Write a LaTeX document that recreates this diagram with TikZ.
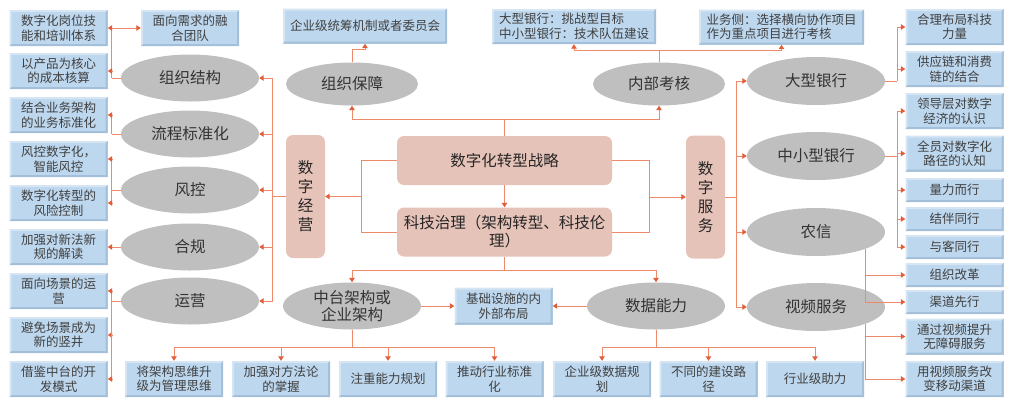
\documentclass[tikz,border=0pt]{standalone}
\usepackage{fontspec}
\setmainfont{Noto Sans CJK SC}
\usetikzlibrary{positioning}
\usetikzlibrary{shapes.geometric}
\usetikzlibrary{arrows.meta}
\definecolor{boxColor}{RGB}{189,215,238}
\definecolor{boxLightColor}{RGB}{214,229,244}
\definecolor{boxDarkColor}{RGB}{164,191,218}
\definecolor{ovalColor}{RGB}{191,191,191}
\definecolor{coreColor}{RGB}{230,195,184}
\definecolor{lineColor}{RGB}{238,138,108}
\definecolor{tipColor}{RGB}{226,94,58}
\definecolor{textColor}{RGB}{64,64,64}

\begin{document}
\begin{tikzpicture}[x=1pt,y=-1pt]

            \tikzstyle{infoBox} = [rectangle, fill=boxColor, minimum width=98pt, minimum height=36pt, inner sep=0pt, align=center, text=textColor, font=\fontsize{12.5}{14.5}\selectfont,
              path picture={
                \fill[boxLightColor] (path picture bounding box.south west) -- (path picture bounding box.north west) -- (path picture bounding box.north east)
                  -- ([xshift=-2pt,yshift=-2pt]path picture bounding box.north east) -- ([xshift=2pt,yshift=-2pt]path picture bounding box.north west)
                  -- ([xshift=2pt,yshift=2pt]path picture bounding box.south west) -- cycle;
                \fill[boxDarkColor] (path picture bounding box.south west) -- (path picture bounding box.south east) -- (path picture bounding box.north east)
                  -- ([xshift=-2pt,yshift=-2pt]path picture bounding box.north east) -- ([xshift=-2pt,yshift=2pt]path picture bounding box.south east)
                  -- ([xshift=2pt,yshift=2pt]path picture bounding box.south west) -- cycle;
              }];
            \tikzstyle{shortBox} = [infoBox, minimum height=24pt];
            \tikzstyle{oval} = [ellipse, fill=ovalColor, minimum width=138pt, minimum height=47pt, inner sep=0pt, align=center, text=black!80, font=\fontsize{15.5}{17.5}\selectfont];
            \tikzstyle{coreBox} = [rectangle, rounded corners=7pt, fill=coreColor, minimum width=215pt, minimum height=49pt, inner sep=0pt, align=center, text=black!85, font=\fontsize{15.5}{18}\selectfont];
            \tikzstyle{sideBox} = [coreBox, minimum width=39pt, minimum height=123pt, font=\fontsize{15.5}{19}\selectfont];
            \tikzstyle{link} = [draw=lineColor, line width=1pt];
            \tikzstyle{arrowLink} = [link, -{Triangle[length=4.5pt,width=5.5pt,color=tipColor]}];

            \useasboundingbox (0,0) rectangle (1010,408);

            % centre
            \node[coreBox] (strat) at (504.5,160.5) {数字化转型战略};
            \node[coreBox] (gov)   at (504.5,232)   {科技治理（架构转型、科技伦\\理）};
            \node[sideBox] (biz)   at (305.5,196.5) {数\\字\\经\\营};
            \node[sideBox] (serv)  at (705.5,197)   {数\\字\\服\\务};

            % top
            \node[oval, minimum width=132pt, minimum height=43pt] (guard) at (352,84) {组织保障};
            \node[oval, minimum width=132pt, minimum height=43pt] (eval)  at (659,84) {内部考核};
            \node[infoBox, minimum width=164pt, minimum height=35pt] (guardA) at (365,26) {企业级统筹机制或者委员会};
            \node[infoBox, minimum width=164pt, minimum height=35pt, align=left] (evalA) at (574,26.5) {大型银行：挑战型目标\\中小型银行：技术队伍建设};
            \node[infoBox, minimum width=165pt, minimum height=35pt, align=left] (evalB) at (781.5,27) {业务侧：选择横向协作项目\\作为重点项目进行考核};

            % left
            \node[oval] (org)  at (190,78)  {组织结构};
            \node[oval] (proc) at (190,134) {流程标准化};
            \node[oval] (risk) at (190,190) {风控};
            \node[oval] (comp) at (190,247) {合规};
            \node[oval] (oper) at (190,301) {运营};

            \node[infoBox] (orgA)  at (58.5,28)  {数字化岗位技\\能和培训体系};
            \node[infoBox] (orgB)  at (58.5,71)  {以产品为核心\\的成本核算};
            \node[infoBox] (orgC)  at (190,28)   {面向需求的融\\合团队};
            \node[infoBox] (procA) at (58.5,115) {结合业务架构\\的业务标准化};
            \node[infoBox] (riskA) at (58.5,159) {风控数字化，\\智能风控};
            \node[infoBox] (riskB) at (58.5,203) {数字化转型的\\风险控制};
            \node[infoBox] (compA) at (58.5,247) {加强对新法新\\规的解读};
            \node[infoBox] (operA) at (58.5,291) {面向场景的运\\营};
            \node[infoBox] (operB) at (58.5,335) {避免场景成为\\新的竖井};
            \node[infoBox] (operC) at (58.5,379) {借鉴中台的开\\发模式};

            % right
            \node[oval, minimum height=48pt] (big)   at (816,81)  {大型银行};
            \node[oval, minimum height=48pt] (small) at (816,156) {中小型银行};
            \node[oval, minimum height=48pt] (rural) at (816,232) {农信};
            \node[oval, minimum height=48pt] (video) at (816,307) {视频服务};

            \node[infoBox]  (bigA)   at (954.5,27)    {合理布局科技\\力量};
            \node[infoBox]  (bigB)   at (954.5,69)    {供应链和消费\\链的结合};
            \node[infoBox]  (smallA) at (954.5,111)   {领导层对数字\\经济的认识};
            \node[infoBox]  (smallB) at (954.5,153.5) {全员对数字化\\路径的认知};
            \node[shortBox] (smallC) at (954.5,190)   {量力而行};
            \node[shortBox] (smallD) at (954.5,219)   {结伴同行};
            \node[shortBox] (smallE) at (954.5,247)   {与客同行};
            \node[shortBox] (ruralA) at (954.5,275)   {组织改革};
            \node[shortBox] (ruralB) at (954.5,302)   {渠道先行};
            \node[infoBox]  (videoA) at (954.5,336.5) {通过视频提升\\无障碍服务};
            \node[infoBox]  (videoB) at (954.5,379)   {用视频服务改\\变移动渠道};

            % bottom
            \node[oval] (mid)  at (352,306) {中台架构或\\企业架构};
            \node[oval] (data) at (656,306) {数据能力};
            \node[infoBox, minimum height=37pt] (infra) at (503.5,306) {基础设施的内\\外部布局};

            \node[infoBox] (midA)  at (174,379)   {将架构思维升\\级为管理思维};
            \node[infoBox] (midB)  at (281,379)   {加强对方法论\\的掌握};
            \node[infoBox] (midC)  at (388,379)   {注重能力规划};
            \node[infoBox] (midD)  at (494.5,379) {推动行业标准\\化};
            \node[infoBox] (dataA) at (602,379)   {企业级数据规\\划};
            \node[infoBox] (dataB) at (708.5,379) {不同的建设路\\径};
            \node[infoBox] (dataC) at (815,379)   {行业级助力};

            % centre links
            \draw[arrowLink] (strat) -- (gov);
            \draw[link] (strat.north) -- ++(0,-16) coordinate (topJ);
            \draw[arrowLink] (topJ) -| (guard.south);
            \draw[arrowLink] (topJ) -| (eval.south);
            \draw[arrowLink] (guard.north) -- ++(0,-13) -| (guardA.south);
            \draw[link] (eval.north) -- ++(0,-12) coordinate (evalJ);
            \draw[arrowLink] (evalJ) -| (evalA.south);
            \draw[arrowLink] (evalJ) -| (evalB.south);

            \draw[link] (strat.west) -- ++(-35,0) coordinate (leftJ) -- (leftJ |- gov.west) -- (gov.west);
            \draw[arrowLink] (leftJ |- biz.east) -- (biz.east);
            \draw[link] (strat.east) -- ++(37,0) coordinate (rightJ) -- (rightJ |- gov.east) -- (gov.east);
            \draw[arrowLink] (rightJ |- serv.west) -- (serv.west);

            % left links
            \draw[link] (biz.west) -- ++(-13,0) coordinate (bizJ);
            \draw[arrowLink] (bizJ) |- (org.east);
            \draw[arrowLink] (bizJ) |- (proc.east);
            \draw[arrowLink] (bizJ) |- (risk.east);
            \draw[arrowLink] (bizJ) |- (comp.east);
            \draw[arrowLink] (bizJ) |- (oper.east);

            \draw[link] (org.west) -- ++(-9,0) coordinate (orgJ);
            \draw[arrowLink] (orgJ) |- (orgA.east);
            \draw[arrowLink] (orgJ) |- (orgB.east);
            \draw[arrowLink] (orgJ |- orgC.west) -- (orgC.west);
            \draw[link] (proc.west) -- ++(-9,0) coordinate (procJ);
            \draw[arrowLink] (procJ) |- (procA.east);
            \draw[link] (risk.west) -- ++(-9,0) coordinate (riskJ);
            \draw[arrowLink] (riskJ) |- (riskA.east);
            \draw[arrowLink] (riskJ) |- (riskB.east);
            \draw[arrowLink] (comp.west) -- (compA.east);
            \draw[link] (oper.west) -- ++(-9,0) coordinate (operJ);
            \draw[arrowLink] (operJ) |- (operA.east);
            \draw[arrowLink] (operJ) |- (operB.east);
            \draw[arrowLink] (operJ) |- (operC.east);

            % right links
            \draw[link] (serv.east) -- ++(11,0) coordinate (servJ);
            \draw[arrowLink] (servJ) |- (big.west);
            \draw[arrowLink] (servJ) |- (small.west);
            \draw[arrowLink] (servJ) |- (rural.west);
            \draw[arrowLink] (servJ) |- (video.west);

            \draw[link] (big.east) -- ++(12,0) coordinate (bigJ);
            \draw[arrowLink] (bigJ) |- (bigA.west);
            \draw[arrowLink] (bigJ) |- (bigB.west);
            \draw[link] (small.east) -- ++(12,0) coordinate (smallJ);
            \draw[arrowLink] (smallJ) |- (smallA.west);
            \draw[arrowLink] (smallJ) |- (smallB.west);
            \draw[arrowLink] (smallJ) |- (smallC.west);
            \draw[arrowLink] (smallJ) |- (smallD.west);
            \draw[arrowLink] (smallJ) |- (smallE.west);
            \draw[arrowLink] (rural.-19) |- (ruralA.west);
            \draw[arrowLink] (rural.-19) |- (ruralB.west);
            \draw[arrowLink] (video.-19) |- (videoA.west);
            \draw[arrowLink] (video.-19) |- (videoB.west);

            % bottom links
            \draw[link] (gov.south) -- ++(0,14) coordinate (botJ);
            \draw[arrowLink] (botJ) -| (mid.north);
            \draw[arrowLink] (botJ) -| (data.north);
            \draw[arrowLink] (mid) -- (infra);
            \draw[arrowLink] (data) -- (infra);
            \draw[link] (mid.south) -- ++(0,18) coordinate (midJ);
            \draw[arrowLink] (midJ) -| (midA.north);
            \draw[arrowLink] (midJ) -| (midB.north);
            \draw[arrowLink] (midJ) -| (midC.north);
            \draw[arrowLink] (midJ) -| (midD.north);
            \draw[link] (data.south) -- ++(0,18) coordinate (dataJ);
            \draw[arrowLink] (dataJ) -| (dataA.north);
            \draw[arrowLink] (dataJ) -| (dataB.north);
            \draw[arrowLink] (dataJ) -| (dataC.north);
          \end{tikzpicture}
\end{document}
